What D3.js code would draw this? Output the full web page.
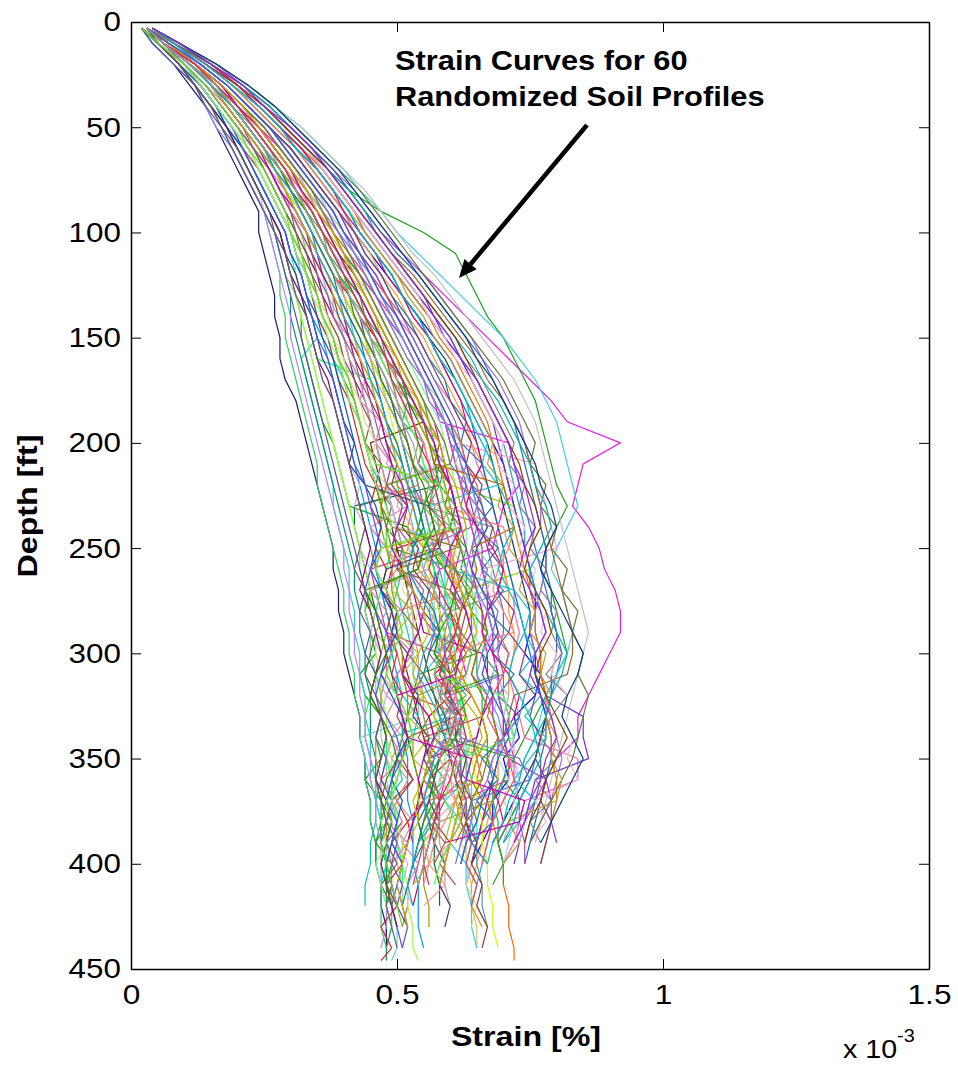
<!DOCTYPE html>
<html><head><meta charset="utf-8">
<script src="https://cdn.jsdelivr.net/npm/d3@7"></script>
<style>
body{margin:0;background:#fff;}
svg{display:block;}
text{font-family:"Liberation Sans",Arial,Helvetica,sans-serif;fill:#000;}
</style></head>
<body>
<svg id="chart" width="958" height="1068"></svg>
<script>
// depth grid (ft) shared by all profiles
const depths = [3,10,20,30,40,50,60,70,80,90,100,110,120,130,140,150,160,170,180,190,200,210,220,230,240,250,260,270,280,290,300,310,320,330,340,350,360,370,380,390,400,410,420,430,440,446];
// strain values in hundredths of 1e-3 %, one array per computed profile
const profiles = [
[3,6,11,15,19,22,25,27,29,32, 34,36,38,41,43,46,48,51,53,55, 57,58,60,61,60,62,63,61,60,62, 61,57,60,56,57,60,56,55,52,53],
[2,5,9,12,15,18,20,22,24,26, 28,29,30,31,32,32,33,34,35,36, 38,39,40,41,52,53,54,45,44,45, 46,43,44,47,46,47,44,47,48,46, 49,48,49],
[4,8,14,19,23,27,31,34,37,40, 42,45,48,51,54,57,60,62,64,66, 68,70,71,72,73,74,75,76,76,75, 74,77,76,72,73,70,71,68,68,66, 64],
[3,7,12,17,21,24,28,31,33,36, 38,40,43,46,48,51,53,55,57,58, 71,72,73,70,69,68,58,57,59,60, 62,63,59,60,57,61,62,58,58,57],
[2,5,10,13,16,19,22,24,26,28, 30,31,33,34,35,37,38,40,41,43, 44,45,47,48,49,50,51,50,51,52, 53,50,51,54,53,50,51,48,50,49, 48,47],
[4,9,16,21,26,30,34,38,41,44, 47,51,55,59,63,67,71,75,79,82, 92,85,84,83,86,88,89,91,92,92, 90,88,86,84,84,80,78,76,74,72],
[4,9,15,20,25,29,33,37,41,47, 55,61,63,65,67,70,72,74,76,77, 78,79,80,82,80,78,77,79,80,81, 82,80,78,76,74,72,70,68,66,65, 64],
[2,4,8,11,14,16,18,20,22,24, 24,25,26,27,27,28,28,29,31,32, 33,34,35,36,37,38,38,39,39,40, 40,41,42,43,43,44,44,45,45,46, 46,47,47,48,48],
[3,6,12,16,20,23,26,29,31,34, 36,38,40,42,44,46,47,49,50,51, 52,53,54,55,68,69,70,71,60,59, 58,57,58,59,57,56,55,54,53,52],
[3,7,13,18,22,26,29,32,35,38, 40,43,45,48,50,53,55,57,60,62, 64,65,67,68,69,70,71,72,72,73, 72,71,72,73,74,84,84,74,73,72, 70],
[3,5,10,14,17,20,23,26,28,30, 32,33,35,36,37,39,40,41,42,43, 44,45,46,47,48,48,49,50,49,48, 47,46,45,44,44,45,46,46,47,47, 48,48,49,49],
[3,8,14,20,24,28,32,36,39,42, 44,47,50,53,56,59,62,65,67,69, 71,72,73,74,75,76,77,78,79,80, 81,80,79,78,77,76,75,73,71,69],
[3,6,11,16,19,22,25,28,31,33, 35,37,39,40,42,44,45,47,48,50, 51,52,53,55,56,57,45,46,47,48, 58,59,60,61,62,60,59,58,56,55, 54,53],
[2,5,9,13,16,19,22,24,26,28, 30,31,32,33,34,35,32,33,34,35, 36,37,38,38,39,40,41,41,42,42, 43,43,44,44,45,45,46,46,47,47, 48,48,49,50],
[3,7,12,17,21,24,27,30,33,36, 38,40,42,44,46,48,50,52,54,56, 58,59,60,72,73,74,75,63,62,61, 60,61,62,63,64,63,62,61,60,59],
[4,9,16,22,27,32,36,40,43,47, 50,54,58,62,66,70,73,76,78,80, 81,82,83,84,82,80,79,81,82,83, 82,80,78,77,76,74,73,72,70,68],
[3,6,11,15,18,21,24,27,29,31, 33,35,37,39,41,43,45,46,47,48, 50,51,52,53,54,55,56,57,58,59, 60,62,61,63,64,66,65,67,68,69, 70,70,71,71,72,72],
[2,5,9,12,15,17,19,21,23,25, 27,28,29,30,30,31,32,33,34,35, 36,37,38,39,40,41,42,42,43,43, 44,44,45,45,45,46,46,47,47,47, 48,48,48,49,48,48],
[3,7,13,18,22,26,30,33,36,39, 41,43,46,48,51,53,55,57,59,61, 62,63,64,65,66,67,68,69,70,70, 69,68,67,66,65,64,63,62,61,60, 59],
[3,6,12,16,20,23,26,29,32,34, 36,38,41,43,45,47,49,51,53,55, 57,58,60,61,62,50,49,48,49,50, 51,52,53,54,55,56,57,58,57,56, 55,54,53],
[2,5,10,13,16,18,21,23,25,27, 29,30,31,32,33,34,35,45,46,47, 48,49,50,51,50,49,48,47,46,45, 45,46,47,47,48,48,49,49,50,50, 51,51],
[4,8,15,20,25,29,33,36,39,42, 45,48,51,54,57,60,62,64,66,68, 70,71,72,73,74,74,75,76,77,78, 76,75,74,73,72,71,70,69,68,67, 66,65],
[3,5,10,14,17,20,23,25,27,29, 31,33,35,36,38,40,41,42,44,45, 46,47,48,49,50,51,52,53,54,55, 66,67,68,66,65,56,55,54,53,52, 51],
[3,7,12,17,21,25,28,31,34,37, 39,41,44,46,48,50,52,54,56,58, 59,60,61,62,63,63,64,64,65,65, 64,63,62,61,60,59,58,57,56,55],
[3,6,11,15,19,22,25,28,30,32, 34,36,38,40,42,44,46,48,49,51, 52,53,54,43,44,45,46,47,48,49, 50,51,52,63,64,65,66,56,55,54, 53,52,52,51],
[3,8,14,19,24,28,31,35,38,41, 43,46,49,51,54,56,59,61,63,65, 67,68,69,70,71,72,73,74,75,75, 76,76,77,78,77,76,74,72,70,68],
[3,6,12,17,20,24,27,30,32,35, 37,39,41,43,45,47,49,50,52,53, 55,56,57,58,59,60,60,61,61,62, 62,61,61,60,59,58,57,56,55,54, 53,52],
[2,4,8,12,14,16,19,21,23,25, 26,27,28,28,29,29,30,31,32,33, 34,35,35,36,37,38,39,40,40,41, 41,42,42,43,43,44,44,45,45,46, 46,47,47,47,48],
[4,9,15,21,26,30,34,38,42,45, 48,51,55,58,61,64,66,69,71,73, 74,75,76,77,77,78,78,77,76,75, 76,77,78,79,80,81,80,79,77,75],
[3,6,10,14,17,20,23,26,28,30, 32,34,36,38,40,42,43,45,47,48, 49,51,52,53,54,55,56,57,57,58, 58,59,59,60,60,61,61,62,62,63, 63,64,64,65,65],
[3,6,12,16,20,23,26,29,31,34, 36,38,40,43,45,47,49,51,52,54, 56,57,58,42,42,43,44,45,46,47, 48,49,50,51,52,53,54,55,56,57, 57,58,58],
[3,7,13,18,22,26,29,32,35,38, 40,42,45,47,49,51,53,55,57,59, 61,76,77,78,79,80,66,65,66,67, 68,69,70,71,72,72,73,72,71,70],
[2,5,10,13,16,18,21,23,25,27, 29,30,32,33,34,36,37,38,39,40, 41,42,43,44,45,46,46,47,48,49, 49,50,50,51,51,52,52,52,53,53, 53,54,54,54,55],
[4,8,15,21,25,29,33,37,40,43, 46,49,53,56,59,62,65,67,70,72, 74,75,76,77,78,79,80,81,82,83, 83,82,72,71,70,69,68,67,66,65],
[3,6,11,15,18,21,24,27,29,31, 33,34,36,37,39,40,41,43,44,45, 46,47,48,49,50,51,51,52,52,53, 53,53,54,54,43,44,45,46,47,48, 48,49,49,50,50,49],
[3,7,12,17,21,24,27,30,33,36, 38,40,43,45,47,49,51,53,55,57, 58,59,60,61,62,63,64,65,66,66, 67,67,68,68,69,69,68,67,66,65, 64,63],
[3,5,10,14,17,20,23,25,27,29, 31,32,34,35,36,38,39,40,42,43, 44,45,46,47,48,49,61,62,63,64, 65,54,53,52,51,50,49,48,47,46, 46],
[3,8,14,19,23,27,31,34,37,40, 42,45,47,50,52,55,57,59,61,63, 64,66,67,68,69,70,70,71,71,72, 72,71,71,70,70,69,69,68,67,66, 65,64,64],
[3,6,11,16,19,22,25,28,31,33, 35,37,39,41,43,44,46,47,49,50, 51,52,53,54,55,56,57,58,58,59, 59,60,60,61,61,62,62,63,63,64],
[2,5,9,12,15,17,19,21,23,25, 27,28,29,31,32,33,34,35,36,37, 38,39,40,41,42,43,43,44,44,45, 45,46,46,47,47,48,48,49,49,50, 50,51,51,52],
[4,9,16,22,27,32,36,40,44,47, 50,53,57,60,63,66,69,72,74,76, 77,78,79,80,81,82,83,84,85,86, 85,84,83,82,81,80,79,78,77,76],
[3,6,11,15,19,22,25,27,29,32, 34,36,38,40,42,44,45,47,48,50, 51,52,53,54,55,56,57,57,58,58, 59,59,60,60,49,48,47,46,46,45, 45,44,44],
[4,8,15,20,25,29,33,36,39,42, 45,48,51,54,57,59,62,64,66,68, 69,70,71,72,73,74,75,75,76,76, 77,77,78,85,85,86,76,75,74,73, 72],
[2,5,10,13,16,19,22,24,26,28, 30,32,33,35,36,38,39,40,41,43, 44,45,46,47,47,48,49,49,50,50, 51,51,52,52,53,53,54,54,54,55, 55,55,56,56],
[3,7,12,17,21,25,28,31,34,37, 39,41,44,46,49,51,53,55,57,59, 60,61,62,63,64,65,66,67,67,68, 68,69,69,70,70,71,71,62,61,60, 59,58],
[3,6,11,15,18,21,24,27,29,31, 33,35,37,39,41,42,44,45,47,48, 49,50,51,52,53,54,55,56,57,57, 58,55,59,62,57,60,63,59,62,60, 63,63,64,64,65],
[3,6,12,17,20,24,27,30,32,35, 37,39,42,44,46,48,50,52,54,55, 45,46,47,48,49,50,51,52,53,54, 55,56,57,58,59,60,61,62,63,64],
[2,5,9,12,15,18,20,22,24,26, 28,29,30,31,32,33,34,35,36,37, 38,39,40,41,42,43,44,45,45,46, 46,47,47,48,48,49,49,50,50,51, 51,52,52,53,53,54],
[3,8,14,19,24,28,31,35,38,41, 43,46,49,51,54,56,58,60,62,64, 65,66,67,68,69,70,71,72,73,74, 75,76,77,78,79,79,78,77,76,75, 74],
[3,6,10,14,17,20,23,26,28,30, 32,34,35,37,38,40,41,43,44,45, 46,47,48,49,50,51,52,52,53,53, 54,54,55,55,56,56,57,57,58,58, 59,59,60],
[3,6,12,16,20,23,26,29,31,34, 36,38,40,42,44,46,48,50,51,53, 54,55,56,57,58,58,59,59,60,60, 61,61,62,62,63,63,64,64,65,65],
[3,7,13,18,22,26,30,33,36,39, 41,43,46,48,50,52,54,56,58,60, 61,62,63,64,65,66,66,67,67,68, 68,69,69,70,70,71,78,79,79,80],
[3,6,11,15,19,22,25,27,29,32, 34,36,38,40,42,44,45,47,48,49, 50,51,52,53,54,55,56,57,58,59, 60,61,62,63,64,64,65,65,66,66, 67,67,68,68,69],
[4,9,15,21,26,30,34,38,41,44, 47,50,54,57,60,63,66,68,70,72, 73,74,75,76,77,78,78,79,79,80, 80,79,79,78,78,77,77,76,75,74],
[2,5,10,13,16,19,22,24,26,28, 30,32,33,35,36,38,39,41,42,43, 44,45,46,58,59,60,61,62,50,49, 48,48,47,47,46,46,47,47,48,48, 49,49,50],
[3,7,12,17,21,24,27,30,33,36, 38,40,43,45,47,49,51,53,55,56, 57,58,59,60,61,62,63,63,64,64, 65,65,66,66,67,67,68,68,69,69, 70,70],
[2,4,8,12,14,16,19,21,23,25, 26,27,28,29,30,30,31,32,33,34, 35,36,37,38,39,40,40,41,41,42, 42,43,43,44,44,45,45,46,46,47, 47,47,48,48,47],
[3,8,14,20,24,28,32,36,39,42, 44,47,50,53,56,58,61,63,65,67, 68,69,70,71,72,73,74,75,76,76, 77,77,78,78,79,79,80,80,79,78, 77],
[3,6,11,16,19,22,25,28,31,33, 35,37,39,41,43,45,46,48,49,51, 52,53,54,55,56,57,58,59,59,60, 60,61,61,62,62,63,63,64,64,65, 65,66,66,67],
[3,7,13,18,22,26,29,32,35,38, 40,42,45,47,49,51,53,55,57,59, 60,61,62,63,64,65,66,67,68,69, 69,70,70,71,71,72,72,73,73,74, 74],
[3,6,11,16,19,23,26,28,31,33, 36,37,40,41,44,45,48,49,52,51, 55,54,58,56,60,57,61,64,59,62, 57,60,63,58,61,56,59,55,57,54],
[2,5,10,14,18,21,24,26,29,30, 33,34,36,38,38,41,42,44,43,47, 46,49,48,52,45,48,50,47,51,49, 53,50,48,52,49,51,47,50,48,52, 49],
[4,8,13,18,22,26,30,33,36,39, 42,44,47,49,52,54,56,59,60,63, 62,66,64,68,65,69,66,70,67,71, 68,72,69,73,70,66,69,65,68,64, 67],
[3,7,12,16,20,24,27,30,32,35, 37,40,41,44,46,47,50,51,54,55, 58,57,60,59,62,48,51,49,53,50, 54,51,55,52,56,53,57,54,58,55, 56,53],
[3,6,11,15,18,21,23,26,28,30, 31,33,34,36,37,39,40,42,43,45, 44,47,46,49,48,51,50,60,62,61, 63,60,64,61,52,50,53,49,51,48, 50,47,49],
[4,8,14,19,24,28,32,35,38,41, 43,46,48,51,53,56,58,61,63,65, 67,66,69,56,57,58,60,72,75,74, 76,73,77,74,78,75,72,76,73,70],
[2,5,9,13,16,19,21,24,26,28, 30,31,33,34,35,37,38,39,41,42, 43,44,46,45,47,46,48,47,49,48, 50,49,51,50,52,51,53,50,52,49, 51,48,50,47,49,47],
[3,7,12,17,21,25,28,31,34,36, 39,41,43,46,48,50,52,55,56,59, 60,63,62,65,64,55,58,56,59,57, 60,58,61,59,62,60,63,61,64,62],
[3,6,12,16,20,23,26,29,31,34, 36,38,40,43,44,47,48,51,52,55, 56,59,58,61,60,63,62,65,64,67, 66,69,58,57,59,72,70,73,71,69, 70,68],
[3,6,11,15,19,22,25,28,30,32, 34,35,37,39,40,42,43,45,46,48, 49,51,50,53,52,55,54,57,56,59, 58,60,59,61,60,62,61,63,62,64, 63,65,64,66],
[4,9,15,20,25,29,33,37,40,43, 46,49,52,55,58,61,63,66,68,70, 72,71,74,73,76,75,78,77,80,79, 81,78,82,79,77,80,76,79,75,77],
[2,5,9,12,15,17,20,22,24,25, 27,29,30,31,33,34,35,36,38,39, 40,41,43,42,44,43,45,44,46,45, 47,46,48,47,49,48,50,49,51,50, 52,51,53],
[3,7,13,18,22,26,29,32,35,37, 40,42,45,47,49,51,53,55,58,59, 62,61,64,63,66,65,68,67,56,59, 57,60,58,61,59,62,60,63,61,64],
[3,6,11,15,18,21,24,27,29,31, 33,35,36,38,40,41,43,44,46,47, 49,48,51,50,53,52,55,54,57,56, 59,58,61,60,63,62,58,61,57,60, 56,59,55],
[3,7,12,17,21,25,28,31,33,36, 38,40,42,45,47,49,51,53,55,57, 59,58,48,49,50,62,65,64,67,66, 69,68,71,70,72,71,73,72,74,73],
[2,5,10,13,16,19,22,24,26,28, 30,32,33,35,37,38,40,41,43,44, 46,45,48,47,50,49,52,51,54,53, 56,55,58,57,60,59,62,61,63,62, 64,63,65,64],
[4,8,15,20,25,29,33,36,39,42, 45,48,51,54,56,59,61,64,66,68, 70,69,72,71,74,73,76,75,78,77, 80,79,82,81,83,82,84,76,78,75],
[3,6,11,15,19,22,25,27,30,32, 34,36,38,40,41,43,45,46,48,50, 51,53,52,55,54,57,56,45,48,46, 49,47,50,48,51,49,52,50,53,51, 54,52],
[3,6,12,16,20,23,26,29,32,34, 36,38,41,43,45,47,49,51,53,55, 57,56,59,58,61,60,63,62,65,64, 67,66,69,68,70,69,71,70,72,71, 70],
[2,5,9,12,15,18,20,22,24,26, 28,29,31,32,34,35,36,38,39,40, 42,41,44,56,57,58,48,47,50,49, 52,51,54,53,56,55,57,56,58,57, 59,58,60,59],
[4,9,16,22,27,31,35,39,43,46, 49,52,55,58,61,64,67,70,72,74, 76,75,78,77,80,79,82,81,84,83, 85,84,86,85,84,83,81,79,77,75],
[3,7,12,17,21,24,27,30,33,35, 38,40,42,44,46,48,50,52,54,56, 58,57,60,59,62,61,50,53,51,54, 52,55,53,56,54,57,55,58,56,59, 57],
[3,6,11,15,18,21,24,27,29,31, 33,34,36,38,39,41,42,44,45,47, 48,50,49,52,51,54,53,56,55,58, 57,60,59,62,61,63,62,64,63,65, 64,66,65,67,66],
[3,7,13,18,22,26,30,33,36,39, 42,44,47,49,51,54,56,58,60,62, 64,63,66,65,68,67,70,69,72,71, 74,73,76,75,77,76,78,77,79,78, 77],
[2,4,8,12,14,17,19,21,23,25, 27,28,29,30,31,32,33,34,35,36, 37,38,39,40,41,42,43,44,43,45, 44,46,45,47,46,48,47,49,48,50, 49,51,50,52,51],
[3,6,11,16,19,22,25,28,31,33, 35,37,39,41,43,45,47,49,50,52, 54,53,56,55,58,57,60,59,62,61, 64,63,54,55,56,67,69,68,58,57],
[4,8,14,19,24,28,32,35,38,41, 44,47,50,52,55,57,60,62,64,66, 68,67,70,69,72,71,74,73,76,75, 78,77,79,78,80,79,81,80,71,73, 70],
[3,6,12,16,20,23,26,29,31,34, 36,38,40,42,44,46,48,50,52,53, 55,54,57,56,59,58,61,60,63,62, 65,64,67,66,55,58,56,59,57,60, 58,61],
[3,6,10,14,17,20,23,26,28,30, 32,34,35,37,38,40,42,43,45,46, 47,49,48,51,50,53,52,55,54,57, 56,59,58,61,60,62,61,63,62,64, 63,65,64],
[3,7,12,17,21,25,28,31,34,37, 39,42,44,46,48,51,53,55,57,59, 61,60,63,62,65,64,67,66,69,68, 71,70,60,61,62,73,75,64,63,62, 61],
[3,6,11,15,19,22,25,28,30,33, 35,37,39,42,44,46,48,50,53,55, 56,58,57,55,54,56,59,61,60,58, 57,59,62,63,61,58,56,57,55,54, 53],
[4,8,14,20,24,28,32,35,38,40, 43,46,48,51,53,56,58,60,62,63, 65,66,64,63,65,68,70,69,67,66, 68,71,73,72,70,68,67,69,70,68],
[2,5,9,13,16,18,21,23,25,27, 29,30,32,33,35,36,38,39,40,41, 42,43,44,46,47,46,45,47,49,50, 48,47,49,51,52,50,49,51,50,49, 48,49,50],
[3,7,12,17,21,24,27,30,33,35, 37,39,41,43,45,47,49,51,53,54, 56,58,59,60,58,57,59,62,64,63, 61,60,62,65,66,64,63,61,62,60, 59,58],
[3,6,12,16,20,23,26,29,32,34, 36,39,41,43,45,47,49,51,53,55, 56,57,70,71,72,64,65,64,62,61, 60,62,64,66,67,65,64,66,63,61],
[4,9,15,21,26,30,34,37,41,44, 46,49,52,55,58,61,64,66,69,71, 73,75,76,78,79,77,75,76,78,80, 82,81,79,78,76,77,75,73,72,70],
[3,6,11,15,18,21,24,26,28,31, 33,35,36,38,40,41,43,44,46,47, 48,49,51,52,50,49,51,53,55,54, 52,51,53,56,57,55,54,55,53,52, 51,50,51,52],
[2,5,10,13,16,19,21,23,25,27, 29,30,32,33,34,35,37,38,39,40, 41,42,44,45,46,47,45,44,46,48, 49,47,46,48,50,51,49,48,50,49, 51,50,49,50,51],
[3,7,13,18,22,26,29,32,35,38, 40,43,45,48,50,52,54,56,58,60, 62,63,65,66,67,65,64,66,68,69, 71,70,68,67,69,71,72,70,68,67, 66],
[3,6,12,16,20,23,26,29,31,34, 36,38,40,42,44,46,47,49,51,52, 54,55,57,58,56,55,57,59,61,60, 58,57,70,71,72,62,60,59,61,60, 58,57],
[4,8,15,20,25,29,33,37,40,43, 46,49,52,55,58,61,63,65,67,69, 71,73,74,76,77,75,74,76,78,79, 77,76,78,80,82,80,78,77,75,74],
[3,6,11,15,19,22,25,27,30,32, 34,36,38,39,41,43,44,46,47,48, 50,51,52,54,55,53,52,54,57,58, 56,55,57,59,60,58,57,56,54,55, 53,52,51],
[2,5,9,12,15,18,20,22,24,26, 28,29,30,32,33,34,35,37,38,39, 40,41,42,43,44,45,44,43,45,46, 47,46,45,47,48,47,46,48,49,48, 47,48,49,50],
[3,7,12,17,21,25,28,31,34,36, 38,41,43,45,47,49,51,53,55,57, 59,60,48,47,49,62,61,63,66,67, 65,64,66,68,69,67,66,64,65,63, 62],
[3,6,11,16,19,22,25,28,30,33, 35,37,39,41,42,44,46,47,49,50, 52,53,55,56,57,55,54,44,46,47, 48,46,45,47,49,50,48,47,49,48, 47,48,49],
[4,9,16,22,27,31,35,39,42,45, 48,51,54,57,60,63,65,68,70,72, 74,76,77,79,80,78,77,79,81,83, 85,84,82,81,83,85,83,81,79,77],
[3,6,12,16,20,23,26,29,32,34, 36,38,40,42,44,46,48,50,51,53, 55,56,58,59,70,71,69,68,70,72, 60,59,61,62,60,58,60,61,59,57, 56,55],
[2,5,10,13,16,19,22,24,26,28, 30,31,33,34,36,37,39,40,41,43, 44,45,46,48,49,47,46,48,50,51, 49,48,50,52,53,51,50,49,47,48, 46,47,48,49],
[3,7,13,18,22,26,29,32,35,38, 40,42,45,47,49,51,53,55,57,59, 61,62,64,65,66,64,63,65,67,68, 66,65,67,69,70,68,67,65,64,63, 62],
[3,6,11,15,18,21,24,27,29,31, 33,35,37,38,40,42,43,45,46,48, 49,50,52,53,54,52,51,53,55,56, 54,53,55,57,58,56,55,53,54,52, 51,50,51,52],
[4,8,14,19,24,28,31,35,38,41, 43,46,49,51,54,56,58,61,63,64, 66,68,69,71,72,70,69,71,73,74, 72,71,73,75,76,74,73,71,70,68, 67],
[3,6,12,17,20,24,27,30,32,35, 37,39,41,43,45,47,49,51,53,55, 57,58,60,61,62,60,59,61,63,64, 62,61,50,51,52,64,63,74,73,59],
[2,5,9,12,15,17,20,22,24,26, 27,29,30,31,33,34,35,36,38,39, 40,41,42,43,44,43,42,44,45,46, 45,44,46,47,48,47,46,47,48,47, 48,49,48,49,50],
[3,7,12,17,21,24,27,30,33,35, 38,40,42,44,46,48,50,52,54,56, 58,59,61,62,63,61,60,62,64,65, 63,62,64,66,67,65,64,62,61,60, 59],
[3,6,11,15,19,22,25,27,30,32, 34,35,37,39,40,42,44,45,47,48, 49,51,52,53,54,53,52,54,56,57, 55,54,56,58,59,57,56,55,56,54, 53,52,53],
[4,9,15,21,25,30,34,37,40,43, 46,49,52,55,57,60,62,65,67,69, 71,72,74,75,76,74,73,75,77,78, 76,75,77,79,80,78,77,75,74,72],
[3,6,12,16,20,23,26,29,31,34, 36,38,40,42,44,46,48,49,51,53, 54,56,57,58,59,57,56,58,60,61, 59,58,60,62,63,61,60,58,57,56, 55,56],
[2,5,10,14,17,20,22,25,27,29, 30,32,33,35,36,38,39,41,42,43, 44,46,58,59,60,47,46,48,50,51, 49,48,50,52,53,51,50,48,49,47, 48,49,50,51],
[3,7,13,18,22,26,29,32,35,38, 40,43,45,47,50,52,54,56,58,60, 61,63,64,66,67,65,64,66,68,69, 67,66,68,70,71,69,68,66,65,63, 62],
[3,6,11,16,19,22,25,28,31,33, 35,37,39,41,43,45,46,48,50,51, 53,54,56,57,58,56,55,57,59,60, 58,57,59,61,62,60,59,57,58,56, 55,54]
];
const colors = ["#ff0000","#00aa00","#0000ff","#ff00ff","#00cccc","#e020e0","#20a020","#1a1a66","#888888","#ff66aa",
"#66cc33","#3366ff","#cc3399","#33cccc","#99cc00","#40d0e0","#ff6600","#009966","#6666cc","#cc0033",
"#00ff66","#3399cc","#990099","#66ff99","#cc6633","#003366","#ff3366","#33cc66","#9966ff","#cccc66",
"#006633","#ff99cc","#0099ff","#996633","#66cccc","#cc00cc","#339900","#ff9933","#3333cc","#99cc99",
"#c0c0c0","#00cc99","#6633cc","#999900","#ff3399","#33ccff","#663300","#99ff33","#0066cc","#cc9999",
"#00ffcc","#9933cc","#ccff00","#336699","#ff6666","#22aa44","#aa88ff","#dd7700","#5599aa","#cc44aa",
"#3cb371","#e377c2","#1f77b4","#bcbd22","#8c564b","#17becf","#d62728","#9467bd","#2ca02c","#ff7f0e",
"#7f7f7f","#c5b0d5","#98df8a","#ff9896","#aec7e8","#dbdb8d","#f7b6d2","#c49c94","#9edae5","#393b79",
"#637939","#8c6d31","#843c39","#7b4173","#5254a3","#8ca252","#bd9e39","#ad494a","#a55194","#6b6ecf",
"#00b300","#e60073","#0059b3","#b3b300","#b36b00","#00b3b3","#b300b3","#4d4dff","#ff4d4d","#4dff4d",
"#804000","#008080","#800080","#808000","#408000","#004080","#ff8080","#80ff80","#8080ff","#c0c000",
"#00c0c0","#c000c0","#606060","#e0a000","#20a0e0","#a020e0","#e02060","#60e020","#2060e0","#a0a0a0"];
const xTicks = [0,0.5,1,1.5];
const yTicks = [0,50,100,150,200,250,300,350,400,450];

const svg = d3.select("#chart");
const L=131, T=22, R=929, B=969;
const x = d3.scaleLinear().domain([0,1.5]).range([L,R]);
const y = d3.scaleLinear().domain([0,450]).range([T,B]);

const line = d3.line().x(d=>x(d[1]/100)).y(d=>y(d[0]));
const g = svg.append("g");
profiles.forEach((p,i)=>{
  const pts = p.map((v,k)=>[depths[k],v]);
  g.append("path").attr("d",line(pts)).attr("fill","none")
   .attr("stroke",colors[i%colors.length]).attr("stroke-width",1.2);
});

// axes with inward ticks
const ax = d3.axisBottom(x).tickValues(xTicks).tickFormat(d=>d3.format("")(d)).tickSizeInner(-10).tickSizeOuter(0).tickPadding(15);
const ay = d3.axisLeft(y).tickValues(yTicks).tickSizeInner(-10).tickSizeOuter(0).tickPadding(9);
const axT = d3.axisTop(x).tickValues(xTicks).tickSizeInner(-10).tickSizeOuter(0).tickFormat("");
const ayR = d3.axisRight(y).tickValues(yTicks).tickSizeInner(-10).tickSizeOuter(0).tickFormat("");
function style(sel){sel.selectAll("path.domain").attr("stroke","#000").attr("stroke-width",1.5);
  sel.selectAll("line").attr("stroke","#000").attr("stroke-width",1);}
const gx = svg.append("g").attr("transform",`translate(0,${B})`).call(ax); style(gx);
gx.selectAll("text").attr("font-size",28).attr("fill","#000").attr("dy","0.71em").attr("transform","scale(1.13,1)");
const gy = svg.append("g").attr("transform",`translate(${L},0)`).call(ay); style(gy);
gy.selectAll("text").attr("font-size",28).attr("fill","#000").attr("transform","scale(1.12,1)");
const gt = svg.append("g").attr("transform",`translate(0,${T})`).call(axT); style(gt);
const gr = svg.append("g").attr("transform",`translate(${R},0)`).call(ayR); style(gr);

// axis labels
svg.append("text").attr("transform","translate(526,1046) scale(1.15,1)").attr("text-anchor","middle")
  .attr("font-size",28).attr("font-weight","bold").text("Strain [%]");
svg.append("text").attr("transform","translate(37,506) rotate(-90) scale(1.15,1)").attr("text-anchor","middle")
  .attr("font-size",28).attr("font-weight","bold").text("Depth [ft]");
const mult = svg.append("text").attr("transform","translate(843,1058) scale(1.1,1)").attr("font-size",26);
mult.append("tspan").text("x 10");
mult.append("tspan").attr("font-size",18).attr("dy","-16").text("-3");

// annotation
svg.append("text").attr("transform","translate(395,70) scale(1.1,1)").attr("font-size",28).attr("font-weight","bold").text("Strain Curves for 60");
svg.append("text").attr("transform","translate(395,106) scale(1.1,1)").attr("font-size",28).attr("font-weight","bold").text("Randomized Soil Profiles");
const tail=[587,125], tip=[459,278];
const dx=tip[0]-tail[0], dy=tip[1]-tail[1], len=Math.hypot(dx,dy), ux=dx/len, uy=dy/len;
const hl=18, hw=8, bx=tip[0]-hl*ux, by=tip[1]-hl*uy;
svg.append("line").attr("x1",tail[0]).attr("y1",tail[1]).attr("x2",bx).attr("y2",by).attr("stroke","#000").attr("stroke-width",4.5);
svg.append("path").attr("d",`M${tip[0]},${tip[1]}L${bx-hw*uy},${by+hw*ux}L${bx+hw*uy},${by-hw*ux}Z`).attr("fill","#000");
</script>
</body></html>
